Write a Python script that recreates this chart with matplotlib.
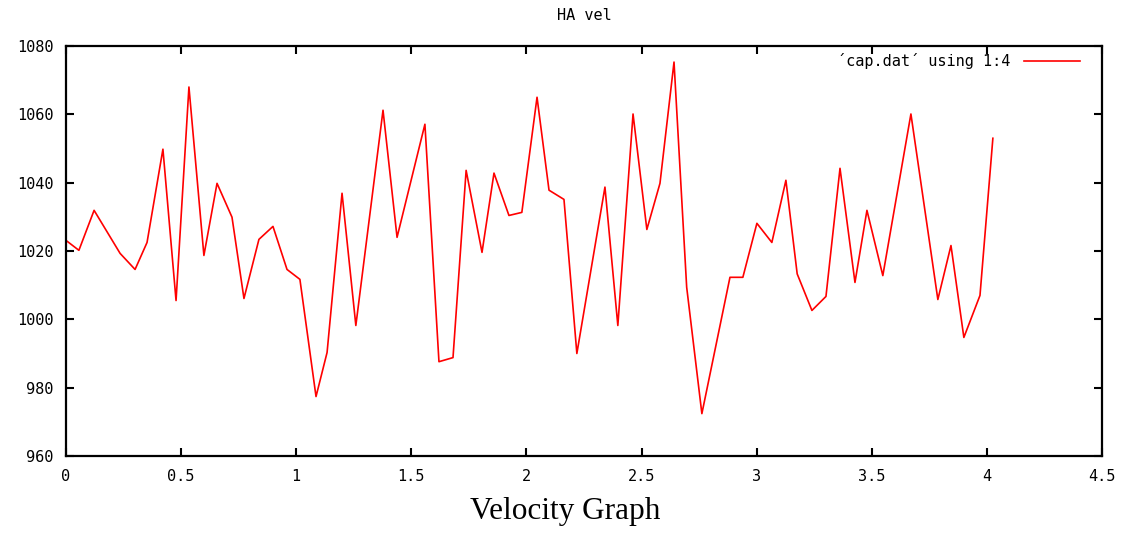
import matplotlib
matplotlib.use("Agg")
import matplotlib.pyplot as plt
from matplotlib.lines import Line2D

# Data
x_vals = [0.000, 0.056, 0.122, 0.235, 0.300, 0.352, 0.421, 0.478, 0.534, 0.599,
          0.656, 0.721, 0.773, 0.838, 0.899, 0.960, 1.016, 1.086, 1.134, 1.199,
          1.259, 1.377, 1.438, 1.559, 1.620, 1.681, 1.738, 1.807, 1.859, 1.924,
          1.980, 2.046, 2.098, 2.163, 2.219, 2.341, 2.397, 2.463, 2.523, 2.580,
          2.641, 2.696, 2.762, 2.884, 2.940, 3.001, 3.066, 3.127, 3.176, 3.240,
          3.301, 3.362, 3.427, 3.479, 3.548, 3.670, 3.787, 3.844, 3.900, 3.970,
          4.026]
y_vals = [1023.1, 1020.2, 1031.9, 1019.3, 1014.6, 1022.5, 1049.8, 1005.5, 1068.0, 1018.7,
          1039.8, 1029.9, 1006.1, 1023.4, 1027.2, 1014.6, 1011.7, 977.4, 990.3, 1036.9,
          998.2, 1061.2, 1024.0, 1057.1, 987.6, 988.8, 1043.6, 1019.6, 1042.8, 1030.4,
          1031.3, 1065.0, 1037.8, 1035.1, 990.0, 1038.7, 998.2, 1060.1, 1026.3, 1039.8,
          1075.3, 1009.4, 972.4, 1012.3, 1012.3, 1028.1, 1022.5, 1040.7, 1013.3, 1002.6,
          1006.7, 1044.2, 1010.8, 1031.9, 1012.8, 1060.1, 1005.8, 1021.6, 994.7, 1007.0,
          1053.0]
x_ticks = [0, 0.5, 1, 1.5, 2, 2.5, 3, 3.5, 4, 4.5]
x_tick_labels = ["0", "0.5", "1", "1.5", "2", "2.5", "3", "3.5", "4", "4.5"]
y_ticks = [960, 980, 1000, 1020, 1040, 1060, 1080]
y_tick_labels = ["960", "980", "1000", "1020", "1040", "1060", "1080"]
title_text = "HA vel"
legend_label = "\u00b4cap.dat\u00b4 using 1:4"
caption = "Velocity Graph"

mono = "DejaVu Sans Mono"
fs = 11

fig = plt.figure(figsize=(11.31, 5.33), dpi=100)
ax = fig.add_axes([66 / 1131, 1 - 456 / 533, 1036 / 1131, 410 / 533])

ax.plot(x_vals, y_vals, color="#ff0000", linewidth=1.2)
ax.set_xlim(0, 4.5)
ax.set_ylim(960, 1080)
ax.set_xticks(x_ticks)
ax.set_xticklabels(x_tick_labels)
ax.set_yticks(y_ticks)
ax.set_yticklabels(y_tick_labels)

for lab in ax.get_xticklabels() + ax.get_yticklabels():
    lab.set_fontfamily(mono)
    lab.set_fontsize(fs)

ax.tick_params(direction="in", length=6, width=1.5, top=True, right=True,
               colors="black")
ax.tick_params(axis="x", pad=9.5)
ax.tick_params(axis="y", pad=9)
for s in ax.spines.values():
    s.set_linewidth(1.6)
    s.set_color("black")

ax.set_title(title_text, fontsize=fs, family=mono, pad=18.5)

# legend (gnuplot style: text then line sample at top right)
leg = ax.legend([Line2D([0], [0], color="#ff0000", linewidth=1.2)], [legend_label],
                loc="upper right", frameon=False, markerfirst=False,
                prop=dict(family=mono, size=fs),
                handlelength=3.66, handletextpad=0.9, borderpad=0,
                borderaxespad=0, bbox_to_anchor=(0.9788, 0.982))

fig.text(565 / 1131, 1 - 512 / 533, caption, ha="center", va="center",
         family="Liberation Serif", fontsize=22.5)

fig.savefig("out.png", dpi=100, facecolor="white")
